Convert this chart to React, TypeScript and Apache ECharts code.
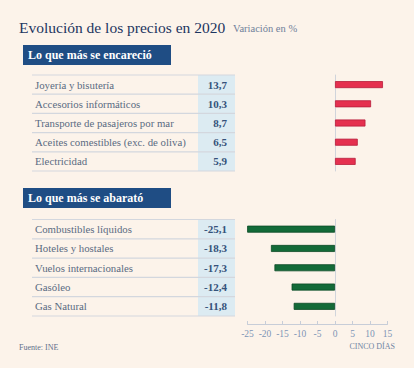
import React, { useEffect, useRef } from "react";
import * as echarts from "echarts";

const topCategories = [
  "Joyería y bisutería",
  "Accesorios informáticos",
  "Transporte de pasajeros por mar",
  "Aceites comestibles (exc. de oliva)",
  "Electricidad",
];
const topValues = [13.7, 10.3, 8.7, 6.5, 5.9];

const bottomCategories = [
  "Combustibles líquidos",
  "Hoteles y hostales",
  "Vuelos internacionales",
  "Gasóleo",
  "Gas Natural",
];
const bottomValues = [-25.1, -18.3, -17.3, -12.4, -11.8];

const axisMin = -25;
const axisMax = 15;
const axisStep = 5;

const SERIF = '"Liberation Serif", "DejaVu Serif", serif';
const BG = "#fcf3ea";

const fmt = (v: number) => v.toFixed(1).replace(".", ",");

function tableRenderer(cats: string[]) {
  return (params: any, api: any) => {
    const idx = api.value(1);
    const cs = params.coordSys;
    const yc = api.coord([0, idx])[1];
    const h = api.size([0, 1])[1];
    const top = yc - h / 2;
    const cellW = 37;
    const children: any[] = [
      {
        type: "rect",
        shape: { x: cs.x + cs.width - cellW, y: top, width: cellW, height: h },
        style: { fill: "#dcebf2" },
      },
      {
        type: "line",
        shape: { x1: cs.x, y1: top, x2: cs.x + cs.width, y2: top },
        style: { stroke: "#d3d7de", lineWidth: 1.2 },
      },
      {
        type: "text",
        style: {
          text: cats[idx],
          x: cs.x + 3,
          y: yc,
          fill: "#5a6b82",
          fontFamily: SERIF,
          fontSize: 10.8,
          align: "left",
          verticalAlign: "middle",
        },
      },
      {
        type: "text",
        style: {
          text: fmt(api.value(2)),
          x: cs.x + cs.width - 8,
          y: yc,
          fill: "#35527a",
          fontFamily: SERIF,
          fontSize: 11,
          fontWeight: "bold",
          align: "right",
          verticalAlign: "middle",
        },
      },
    ];
    if (idx === cats.length - 1) {
      children.push({
        type: "line",
        shape: { x1: cs.x, y1: top + h, x2: cs.x + cs.width, y2: top + h },
        style: { stroke: "#d3d7de", lineWidth: 1.2 },
      });
    }
    return { type: "group", children };
  };
}

export default function App() {
  const ref = useRef<HTMLDivElement>(null);

  useEffect(() => {
    if (!ref.current) return;
    const chart = echarts.init(ref.current, undefined, { renderer: "svg" });

    const grids = [
      { left: 32, top: 75, width: 203, height: 96 },
      { left: 247.5, top: 75, width: 140, height: 96 },
      { left: 32, top: 219.5, width: 203, height: 96.5 },
      { left: 247.5, top: 219.5, width: 140, height: 96.5 },
    ];

    const hiddenTableX = (gi: number) => ({
      type: "value",
      gridIndex: gi,
      min: 0,
      max: 1,
      show: false,
    });

    const option: any = {
      animation: false,
      backgroundColor: BG,
      grid: grids,
      xAxis: [
        hiddenTableX(0),
        {
          type: "value",
          gridIndex: 1,
          min: axisMin,
          max: axisMax,
          interval: axisStep,
          show: false,
        },
        hiddenTableX(2),
        {
          type: "value",
          gridIndex: 3,
          min: axisMin,
          max: axisMax,
          interval: axisStep,
          offset: 8,
          axisLine: { show: true, lineStyle: { color: "#c7cdd8", width: 1 } },
          axisTick: { show: true, inside: true, length: 3, lineStyle: { color: "#c7cdd8" } },
          axisLabel: {
            color: "#7d95b6",
            fontFamily: SERIF,
            fontSize: 9.5,
            margin: 5,
          },
          splitLine: { show: false },
        },
      ],
      yAxis: [
        { type: "category", gridIndex: 0, data: topCategories, inverse: true, show: false },
        {
          type: "category",
          gridIndex: 1,
          data: topCategories,
          inverse: true,
          axisLine: { show: true, onZero: true, lineStyle: { color: "#d0d4db", width: 1 } },
          axisTick: { show: false },
          axisLabel: { show: false },
        },
        { type: "category", gridIndex: 2, data: bottomCategories, inverse: true, show: false },
        {
          type: "category",
          gridIndex: 3,
          data: bottomCategories,
          inverse: true,
          axisLine: { show: true, onZero: true, lineStyle: { color: "#d0d4db", width: 1 } },
          axisTick: { show: false },
          axisLabel: { show: false },
        },
      ],
      series: [
        {
          type: "custom",
          xAxisIndex: 0,
          yAxisIndex: 0,
          data: topCategories.map((c, i) => [0, i, topValues[i]]),
          encode: { x: 0, y: 1 },
          renderItem: tableRenderer(topCategories),
          silent: true,
        },
        {
          type: "bar",
          xAxisIndex: 1,
          yAxisIndex: 1,
          data: topValues,
          barWidth: 7,
          itemStyle: { color: "#e5304f", borderColor: "#b81d3b", borderWidth: 0.8 },
          silent: true,
        },
        {
          type: "custom",
          xAxisIndex: 2,
          yAxisIndex: 2,
          data: bottomCategories.map((c, i) => [0, i, bottomValues[i]]),
          encode: { x: 0, y: 1 },
          renderItem: tableRenderer(bottomCategories),
          silent: true,
        },
        {
          type: "bar",
          xAxisIndex: 3,
          yAxisIndex: 3,
          data: bottomValues,
          barWidth: 7,
          itemStyle: { color: "#136a38", borderColor: "#0b4a26", borderWidth: 0.8 },
          silent: true,
        },
      ],
      graphic: [
        {
          type: "text",
          x: 19,
          y: 27,
          style: {
            text: "Evolución de los precios en 2020",
            fill: "#1c3560",
            fontFamily: SERIF,
            fontSize: 15.5,
            verticalAlign: "middle",
          },
        },
        {
          type: "text",
          x: 233,
          y: 28,
          style: {
            text: "Variación en %",
            fill: "#6f809a",
            fontFamily: SERIF,
            fontSize: 10.5,
            verticalAlign: "middle",
          },
        },
        {
          type: "rect",
          shape: { x: 23, y: 45, width: 148, height: 20 },
          style: { fill: "#1f4d84" },
        },
        {
          type: "text",
          x: 28,
          y: 55,
          style: {
            text: "Lo que más se encareció",
            fill: "#ffffff",
            fontFamily: SERIF,
            fontSize: 12,
            fontWeight: "bold",
            verticalAlign: "middle",
          },
        },
        {
          type: "rect",
          shape: { x: 23, y: 188, width: 148, height: 20 },
          style: { fill: "#1f4d84" },
        },
        {
          type: "text",
          x: 28,
          y: 198,
          style: {
            text: "Lo que más se abarató",
            fill: "#ffffff",
            fontFamily: SERIF,
            fontSize: 12,
            fontWeight: "bold",
            verticalAlign: "middle",
          },
        },
        {
          type: "text",
          x: 19,
          y: 347,
          style: {
            text: "Fuente: INE",
            fill: "#5f708a",
            fontFamily: SERIF,
            fontSize: 8,
            verticalAlign: "middle",
          },
        },
        {
          type: "text",
          x: 395,
          y: 346,
          style: {
            text: "CINCO DÍAS",
            fill: "#6f84a3",
            fontFamily: SERIF,
            fontSize: 8,
            align: "right",
            verticalAlign: "middle",
          },
        },
      ],
    };

    chart.setOption(option);
    return () => chart.dispose();
  }, []);

  return (
    <div
      ref={ref}
      style={{ position: "fixed", left: 0, top: 0, width: 414, height: 368, background: BG }}
    />
  );
}
